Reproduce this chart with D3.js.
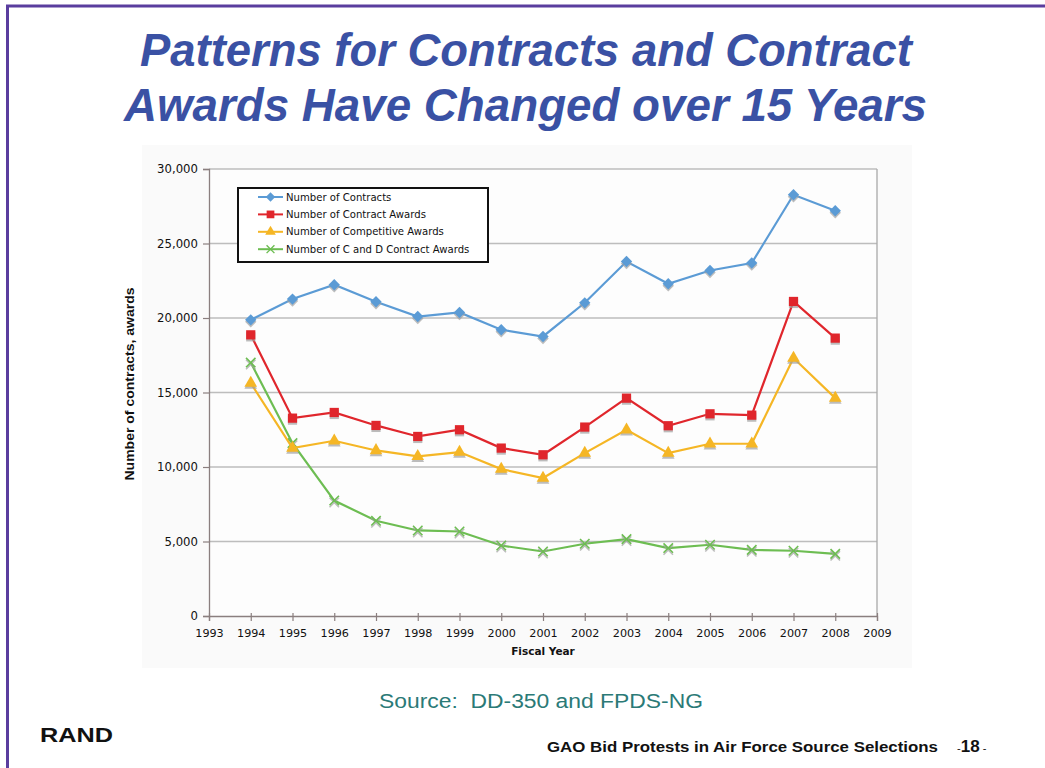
<!DOCTYPE html>
<html><head><meta charset="utf-8">
<script src="https://cdn.jsdelivr.net/npm/d3@7"></script>
<style>body{margin:0;background:#fff;}svg{display:block;}</style>
</head><body>
<script>
const years = [1994,1995,1996,1997,1998,1999,2000,2001,2002,2003,2004,2005,2006,2007,2008];
const contracts = [19880,21270,22230,21090,20100,20370,19210,18760,21020,23790,22300,23190,23690,28270,27200];
const contractAwards = [18870,13280,13660,12790,12050,12500,11270,10820,12680,14620,12770,13570,13480,21110,18650];
const competitiveAwards = [15630,11270,11760,11110,10710,11000,9860,9260,10930,12500,10930,11560,11560,17310,14620];
const cdAwards = [17010,11600,7750,6390,5740,5670,4730,4330,4850,5160,4560,4780,4440,4380,4170];
const seriesNames = ["Number of Contracts","Number of Contract Awards","Number of Competitive Awards","Number of C and D Contract Awards"];
const yTicks = [0,5000,10000,15000,20000,25000,30000];
const xTicks = d3.range(1993,2010);

const colors = ["#5b9bd5","#e0262c","#f5b625","#6dbd52"];
const diamond = {draw(ctx,size){const r=Math.sqrt(size/2);ctx.moveTo(0,-r);ctx.lineTo(r,0);ctx.lineTo(0,r);ctx.lineTo(-r,0);ctx.closePath();}};
const symbols = [diamond, d3.symbolSquare, d3.symbolTriangle, d3.symbolX];
const sizes = [64,85,70,60];

const W=1045,H=768;
const svg=d3.select("body").append("svg").attr("width",W).attr("height",H);
svg.append("rect").attr("width",W).attr("height",H).attr("fill","#fff");
// frame
svg.append("line").attr("x1",6).attr("x2",W).attr("y1",6).attr("y2",6).attr("stroke","#5a3d9e").attr("stroke-width",3);
svg.append("line").attr("x1",7.5).attr("x2",7.5).attr("y1",5).attr("y2",H).attr("stroke","#5a3d9e").attr("stroke-width",3);

// title
const tAttrs = s=>s.attr("font-family","Liberation Sans, Arial, sans-serif")
  .attr("font-weight","bold").attr("font-style","italic").attr("font-size",46).attr("fill","#3a51a4")
  .attr("lengthAdjust","spacingAndGlyphs");
svg.append("text").attr("x",140).attr("y",66).call(tAttrs).attr("textLength",772).text("Patterns for Contracts and Contract");
svg.append("text").attr("x",124).attr("y",121).call(tAttrs).attr("textLength",803).text("Awards Have Changed over 15 Years");

// chart panel
svg.append("rect").attr("x",142).attr("y",145).attr("width",770).attr("height",523).attr("fill","#fafafa");

const m={l:209,t:169,r:877,b:616};
const x=d3.scaleLinear().domain([1993,2009]).range([m.l,m.r]);
const y=d3.scaleLinear().domain([0,30000]).range([m.b,m.t]);

svg.append("rect").attr("x",m.l).attr("y",m.t).attr("width",m.r-m.l).attr("height",m.b-m.t).attr("fill","#fdfdfd");

// gridlines
svg.append("g").selectAll("line").data(yTicks.filter(d=>d>0)).join("line")
  .attr("x1",m.l).attr("x2",m.r).attr("y1",d=>y(d)).attr("y2",d=>y(d))
  .attr("stroke","#bdbdbd").attr("stroke-width",1.3);
svg.append("line").attr("x1",m.r).attr("x2",m.r).attr("y1",m.t).attr("y2",m.b).attr("stroke","#a9a9a9").attr("stroke-width",1.3);

// axes
const yAxis=svg.append("g").attr("transform",`translate(${m.l},0)`)
  .call(d3.axisLeft(y).tickValues(yTicks).tickFormat(d3.format(",")).tickSize(6).tickPadding(5));
const xAxis=svg.append("g").attr("transform",`translate(0,${m.b})`)
  .call(d3.axisBottom(x).tickValues(xTicks).tickFormat(d3.format("d")).tickSize(5).tickPadding(8));
[yAxis,xAxis].forEach(a=>{
  a.select(".domain").attr("stroke","#8a7f7f").attr("stroke-width",1.3);
  a.selectAll(".tick line").attr("stroke","#8a7f7f").attr("stroke-width",1.2);
  a.selectAll("text").attr("font-family","DejaVu Sans, Verdana, sans-serif").attr("font-size",11.2).attr("fill","#111");
});
yAxis.selectAll("text").attr("font-size",11.7);
xAxis.selectAll(".tick line").attr("y1",-3);

// axis titles
svg.append("text").attr("transform","translate(134,384) rotate(-90)").attr("text-anchor","middle")
  .attr("font-family","Liberation Sans, Arial, sans-serif").attr("font-weight","bold").attr("font-size",13).attr("fill","#111")
  .attr("textLength",193).attr("lengthAdjust","spacingAndGlyphs")
  .text("Number of contracts, awards");
svg.append("text").attr("x",543).attr("y",655).attr("text-anchor","middle")
  .attr("font-family","DejaVu Sans, Verdana, sans-serif").attr("font-weight","bold").attr("font-size",10.5).attr("fill","#111")
  .text("Fiscal Year");

// series
const allSeries=[contracts,contractAwards,competitiveAwards,cdAwards];
const line=d3.line().x((d,i)=>x(years[i])).y(d=>y(d));
[3,2,1,0].forEach(k=>{
  const g=svg.append("g");
  g.append("path").datum(allSeries[k]).attr("d",line).attr("fill","none").attr("stroke",colors[k]).attr("stroke-width",2.2);
  const sym=d3.symbol().type(symbols[k]).size(sizes[k]);
  g.selectAll(".sh").data(allSeries[k]).join("path").attr("class","sh")
    .attr("transform",(d,i)=>`translate(${x(years[i])},${y(d)+2})`).attr("d",sym)
    .attr("fill",k===3?"none":"#a0a0a0").attr("stroke",k===3?"#a0a0a0":"none").attr("stroke-width",1.5).attr("opacity",0.7);
  g.selectAll(".mk").data(allSeries[k]).join("path").attr("class","mk")
    .attr("transform",(d,i)=>`translate(${x(years[i])},${y(d)})`).attr("d",sym)
    .attr("fill",k===3?"none":colors[k]).attr("stroke",k===3?colors[k]:"none").attr("stroke-width",1.6);
});

// legend
const lg=svg.append("g");
lg.append("rect").attr("x",238).attr("y",188).attr("width",250).attr("height",74).attr("fill","#fff").attr("stroke","#111").attr("stroke-width",2);
seriesNames.forEach((n,k)=>{
  const yy=197+k*17.4;
  lg.append("line").attr("x1",258).attr("x2",283).attr("y1",yy).attr("y2",yy).attr("stroke",colors[k]).attr("stroke-width",2);
  lg.append("path").attr("transform",`translate(270.5,${yy})`).attr("d",d3.symbol().type(symbols[k]).size(sizes[k]*0.7))
    .attr("fill",k===3?"none":colors[k]).attr("stroke",k===3?colors[k]:"none").attr("stroke-width",1.4);
  lg.append("text").attr("x",286).attr("y",yy+3.5).attr("font-family","DejaVu Sans, Verdana, sans-serif").attr("font-size",10.1).attr("fill","#111").text(n);
});

// source
svg.append("text").attr("x",379).attr("y",708).attr("font-family","Liberation Sans, Arial, sans-serif")
  .attr("font-size",20).attr("fill","#2b7a77").attr("xml:space","preserve").style("white-space","pre")
  .attr("textLength",324).attr("lengthAdjust","spacingAndGlyphs").text("Source:  DD-350 and FPDS-NG");
svg.append("text").attr("x",40).attr("y",742).attr("font-family","Liberation Sans, Arial, sans-serif").attr("font-weight","bold")
  .attr("font-size",21).attr("fill","#111").attr("textLength",73).attr("lengthAdjust","spacingAndGlyphs").text("RAND");
svg.append("text").attr("x",547).attr("y",752).attr("font-family","Liberation Sans, Arial, sans-serif")
  .attr("font-weight","bold").attr("font-size",15).attr("fill","#111").attr("textLength",391).attr("lengthAdjust","spacingAndGlyphs")
  .text("GAO Bid Protests in Air Force Source Selections");
const pg=svg.append("text").attr("x",957).attr("y",752).attr("font-family","Liberation Sans, Arial, sans-serif").attr("fill","#111");
pg.append("tspan").attr("font-size",11).text("-");
pg.append("tspan").attr("font-size",17).attr("font-weight","bold").text("18");
pg.append("tspan").attr("font-size",11).text(" -");
</script>
</body></html>
